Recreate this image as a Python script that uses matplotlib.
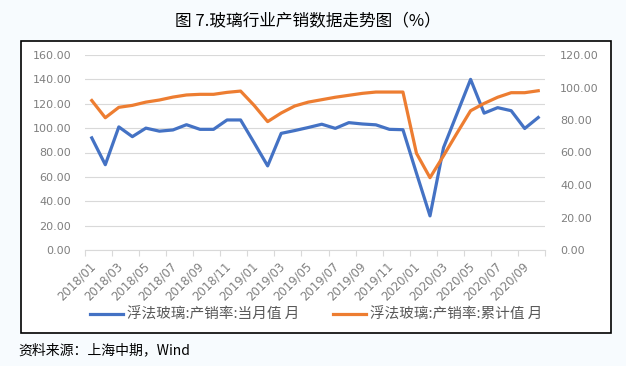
import matplotlib
matplotlib.use("Agg")
import matplotlib.pyplot as plt
import matplotlib.transforms as mtransforms
from matplotlib.lines import Line2D
import numpy as np

plt.rcParams['font.family'] = ['Noto Sans CJK SC', 'DejaVu Sans']

months = [f"{y}/{m:02d}" for y in (2018, 2019, 2020) for m in range(1, 13)][:34]

monthly = [92, 70, 101, 93, 100, 97.5, 98.5, 102.8, 99, 99, 106.7, 106.7,
           88, 69, 95.7, 98, 100.5, 103.2, 99.8, 104.5, 103.4, 102.7, 99, 98.7,
           63, 28, 84, 112, 140, 112.3, 116.8, 114.3, 99.7, 108.7]
cumulative = [92, 81.4, 87.8, 89, 91, 92.3, 94.1, 95.4, 95.8, 95.8, 97, 97.8,
              89, 79, 84.3, 88.6, 91, 92.5, 94, 95.2, 96.4, 97.2, 97.2, 97.2,
              59.5, 44.5, 58, 72, 85.7, 90.2, 94, 96.8, 96.8, 98]

label_monthly = "浮法玻璃:产销率:当月值 月"
label_cum = "浮法玻璃:产销率:累计值 月"
title = "图 7.玻璃行业产销数据走势图（%）"
source = "资料来源：上海中期，Wind"

W, H = 626, 366
fig = plt.figure(figsize=(W / 100, H / 100), dpi=100)
fig.patch.set_facecolor('#f7fbfe')

# white framed chart area
frame = plt.Rectangle((21 / W, 1 - 333 / H), (611 - 21) / W, (333 - 41) / H,
                      transform=fig.transFigure, facecolor='white',
                      edgecolor='black', linewidth=1.2, zorder=-10)
fig.patches.append(frame)

ax = fig.add_axes([85 / W, 1 - 250 / H, (545 - 85) / W, (250 - 55) / H])
ax.set_facecolor('none')
ax2 = ax.twinx()
ax2.set_facecolor('none')

x = np.arange(len(months))
blue = '#4472C4'
orange = '#ED7D31'
grey = '#7f7f7f'

ax.plot(x, monthly, color=blue, lw=2.3, solid_joinstyle='round', zorder=3)
ax2.plot(x, cumulative, color=orange, lw=2.3, solid_joinstyle='round', zorder=3)

ax.set_xlim(-0.5, len(months) - 0.5)
ax.set_ylim(0, 160)
ax2.set_ylim(0, 120)
ax.set_yticks(np.arange(0, 161, 20))
ax2.set_yticks(np.arange(0, 121, 20))
ax.set_yticklabels([f"{v:.2f}" for v in np.arange(0, 161, 20)], family='DejaVu Sans',
                   fontsize=8, color=grey)
ax2.set_yticklabels([f"{v:.2f}" for v in np.arange(0, 121, 20)], family='DejaVu Sans',
                    fontsize=8, color=grey)
ax.grid(axis='y', color='#d9d9d9', lw=0.8)
ax.set_axisbelow(True)
ax.tick_params(axis='y', length=0, pad=10)
ax2.tick_params(axis='y', length=0, pad=11)

for a in (ax, ax2):
    for s in ('left', 'right', 'top'):
        a.spines[s].set_visible(False)
ax.spines['bottom'].set_color('#d9d9d9')
ax2.spines['bottom'].set_visible(False)

# tick marks at category boundaries every 2 months
ax.set_xticks(np.arange(-0.5, len(months), 2), minor=True)
ax.tick_params(axis='x', which='minor', length=4, color='#d9d9d9', width=0.8)
ax.set_xticks(x[::2])
ax.set_xticklabels(months[::2], rotation=45, ha='right', va='top',
                   rotation_mode='anchor', family='DejaVu Sans', fontsize=8.4, color=grey)
ax.tick_params(axis='x', which='major', length=0, pad=7)
offset = mtransforms.ScaledTranslation(-3 / 100, 0, fig.dpi_scale_trans)
for lab in ax.get_xticklabels():
    lab.set_transform(lab.get_transform() + offset)

# legend
handles = [Line2D([], [], color=blue, lw=2.3), Line2D([], [], color=orange, lw=2.3)]
leg = fig.legend(handles, [label_monthly, label_cum], loc='center',
                 bbox_to_anchor=(316 / W, 1 - 315 / H), ncol=2, frameon=False,
                 fontsize=10.5, handlelength=2.3, handletextpad=0.25,
                 columnspacing=2.3)
for t in leg.get_texts():
    t.set_color('#595959')

fig.text(308 / W, 1 - 21 / H, title, ha='center', va='center', fontsize=12,
         color='black')
fig.text(18 / W, 1 - 350 / H, source, ha='left', va='center', fontsize=10,
         color='black')

fig.savefig('out.png', dpi=100, facecolor=fig.get_facecolor())
